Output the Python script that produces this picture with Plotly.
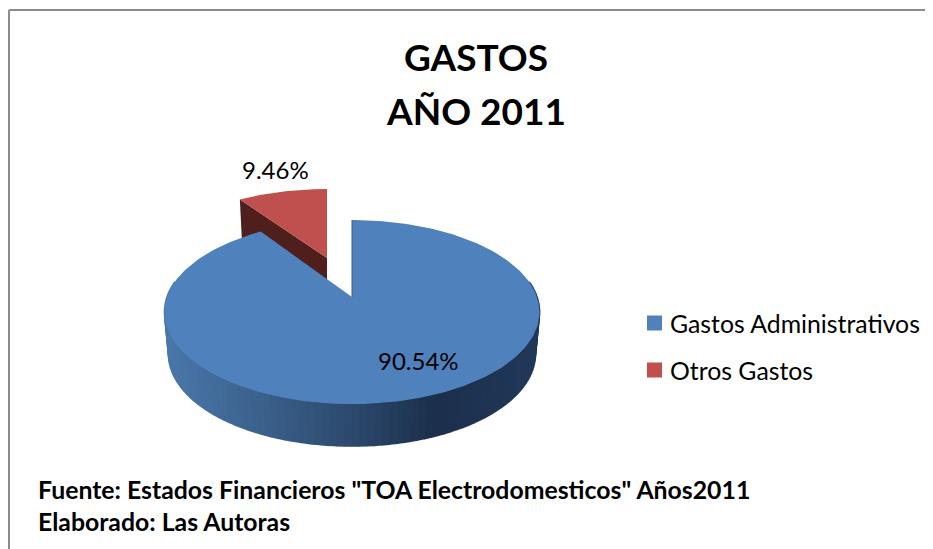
import numpy as np
import plotly.graph_objects as go

categories = ["Gastos Administrativos", "Otros Gastos"]
values = [90.54, 9.46]
title_lines = ["GASTOS", "AÑO 2011"]
footer_lines = ['Fuente: Estados Financieros "TOA Electrodomesticos" Años2011', "Elaborado: Las Autoras"]

BLUE, RED = "#4F81BD", "#C0504D"
RED_SIDE = "#4E1F1D"
FONT = "Lato"
PAGE_W, PAGE_H = 933, 549
PAD = 8  # the page's own margin round the figure
W, H = PAGE_W - PAD, PAGE_H - PAD


def rim(theta, cx, cy, a, b, k=0.163):
    """Perspective projection of a pie rim; theta in degrees clockwise from 12 o'clock."""
    t = np.radians(theta)
    u, v = np.sin(t), np.cos(t)
    w = 1 + k * v
    return cx + a * u / w, cy - b * v / w


def hex_rgb(c):
    return [int(c[i:i + 2], 16) for i in (1, 3, 5)]


share = [v / sum(values) * 360 for v in values]
fig = go.Figure()


def poly(x, y, color, width=0):
    fig.add_trace(go.Scatter(x=list(x), y=list(y), mode="lines", fill="toself", fillcolor=color,
                             line=dict(color=color, width=width), hoverinfo="skip", showlegend=False))


# Exploded slice: side wall, then top face
RC = dict(cx=327, cy=258, a=176.6, b=80.2)
lx, ly = rim(-share[1], **RC)
poly([327, lx, lx + 2, 327], [258, ly, ly + 40, 298], RED_SIDE)
tx, ty = rim(np.linspace(-share[1], 0, 40), **RC)
poly([327, *tx], [258, *ty], RED)

# Main slice: shaded wall strips, then top face
BC = dict(cx=352, cy=297, a=185, b=89.6)
BOT = dict(cx=352, cy=339, a=181, b=89.6)
stops_x = [165, 250, 350, 433, 540]
stops_c = [hex_rgb(c) for c in ["#4B78AB", "#3D6490", "#2D4A6E", "#1C304C", "#22395A"]]
edges = np.linspace(80, 280, 101)
for a0, a1 in zip(edges[:-1], edges[1:]):
    x0, y0 = rim(np.array([a0, a1]), **BC)
    x1, y1 = rim(np.array([a1, a0]), **BOT)
    mx = (x0.mean() + x1.mean()) / 2
    col = "#%02X%02X%02X" % tuple(int(np.interp(mx, stops_x, [s[i] for s in stops_c])) for i in range(3))
    poly([*x0, *x1], [*y0, *y1], col, 1.6)

bx, by = rim(np.linspace(0, share[0], 240), **BC)
poly([352, *bx], [297, *by], BLUE)
fig.add_trace(go.Scatter(x=[352, bx[0]], y=[297, by[0]], mode="lines", line=dict(color="#3A5F8C", width=1),
                         hoverinfo="skip", showlegend=False))

# Legend swatches
legend_y = [323, 370]
for name, color, ly_ in zip(categories, [BLUE, RED], legend_y):
    fig.add_trace(go.Scatter(x=[654.5], y=[ly_], mode="markers", name=name, hoverinfo="name",
                             showlegend=False, marker=dict(symbol="square", size=15, color=color)))

black = "black"
ann = [
    dict(x=476, y=110, text=f"<b>{title_lines[1]}</b>", font=dict(family=FONT, size=37, color=black)),
    dict(x=418, y=360, text=f"{values[0]:.2f}%", font=dict(family=FONT, size=24, color=black)),
    dict(x=275, y=169, text=f"{values[1]:.2f}%", font=dict(family=FONT, size=24, color=black)),
    dict(x=35.5, y=489, text=f"<b>{footer_lines[0]}</b>", xanchor="left", font=dict(family=FONT, size=24.8, color=black)),
    dict(x=35.5, y=521, text=f"<b>{footer_lines[1]}</b>", xanchor="left", font=dict(family=FONT, size=24.8, color=black)),
]
for name, ly_ in zip(categories, legend_y):
    ann.append(dict(x=667.5, y=ly_, text=name, xanchor="left", font=dict(family=FONT, size=24.8, color=black)))
for a in ann:
    a.setdefault("xanchor", "center")
    a.update(xref="x", yref="y", yanchor="middle", showarrow=False)

fig.update_layout(
    width=W, height=H, margin=dict(l=0, r=0, t=0, b=0), autosize=False,
    paper_bgcolor="white", plot_bgcolor="white", showlegend=False,
    title=dict(text=f"<b>{title_lines[0]}</b>", x=(476 - PAD) / W, xanchor="center",
               y=1 - (58 - PAD) / H, yanchor="middle", font=dict(family=FONT, size=37, color=black)),
    xaxis=dict(range=[PAD, PAGE_W], visible=False, fixedrange=True),
    yaxis=dict(range=[PAGE_H, PAD], visible=False, fixedrange=True),
    annotations=ann,
    shapes=[
        dict(type="line", xref="x", yref="y", x0=9, x1=PAGE_W, y0=10, y1=10, line=dict(color="#8C8C8C", width=2)),
        dict(type="line", xref="x", yref="y", x0=9, x1=9, y0=10, y1=PAGE_H, line=dict(color="#8C8C8C", width=2)),
    ],
)
fig.write_html("out.html")
